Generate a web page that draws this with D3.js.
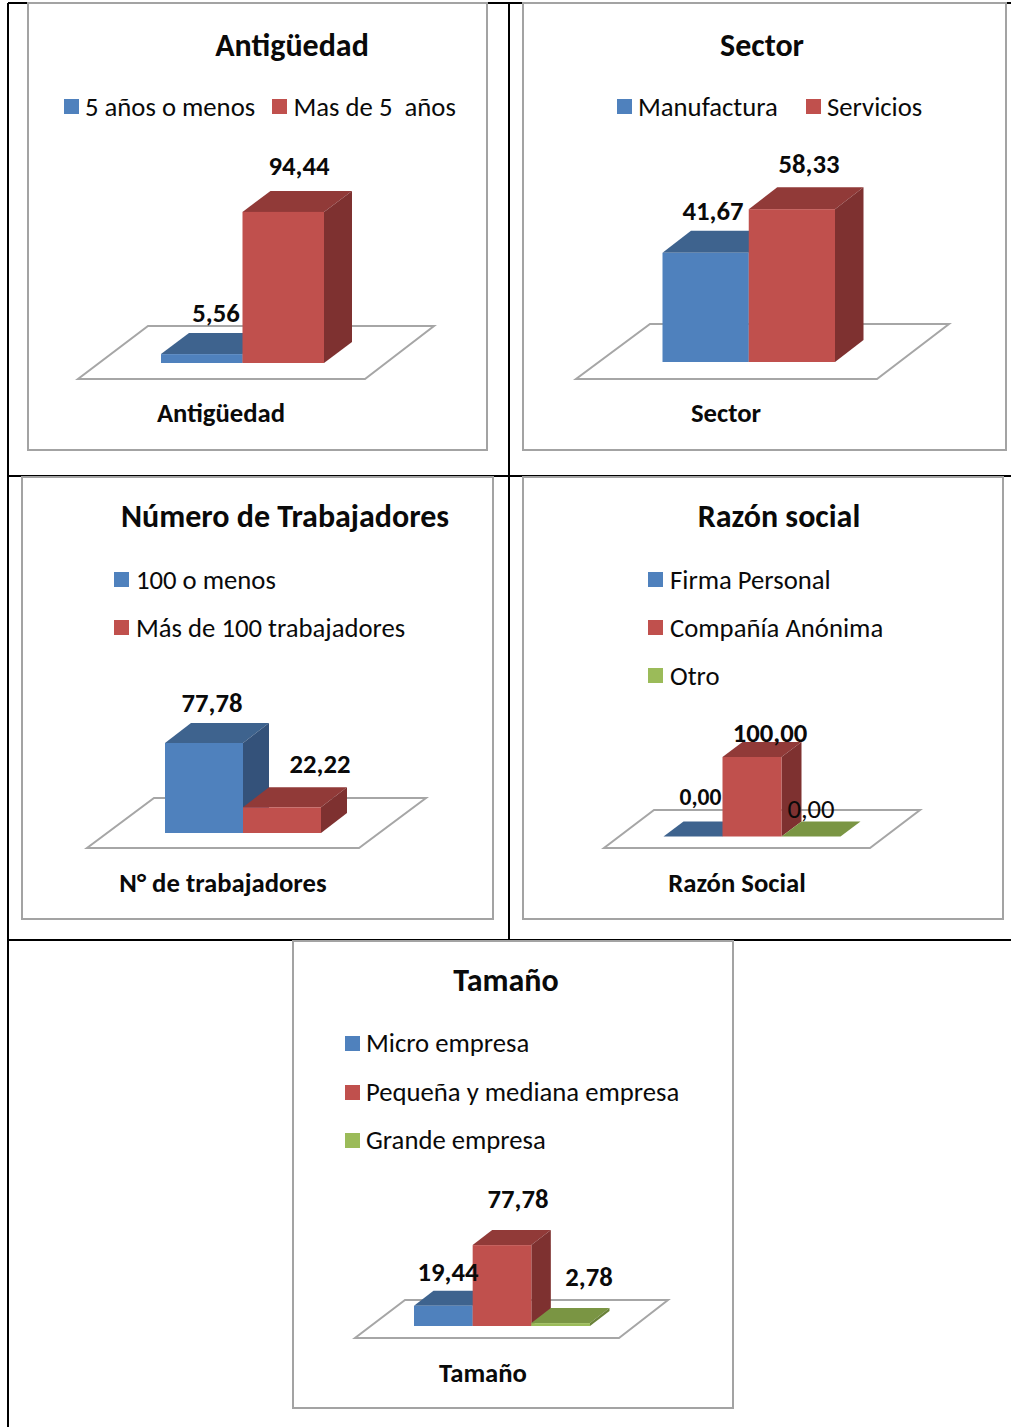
<!DOCTYPE html>
<html lang="es">
<head>
<meta charset="utf-8">
<title>Características de las empresas</title>
<script src="https://cdn.jsdelivr.net/npm/d3@7/dist/d3.min.js"></script>
<style>
  html, body { margin: 0; padding: 0; background: #fff; }
  svg { display: block; }
  text { font-family: Carlito, Calibri, Lato, sans-serif; fill: #0a0a0a; }
</style>
</head>
<body>
<svg id="chart" width="1011" height="1427"></svg>
<script>
// Survey values, in percent
const antiguedadCategories = ["5 años o menos", "Mas de 5  años"];
const antiguedadValues = [5.56, 94.44];
const sectorCategories = ["Manufactura", "Servicios"];
const sectorValues = [41.67, 58.33];
const trabajadoresCategories = ["100 o menos", "Más de 100 trabajadores"];
const trabajadoresValues = [77.78, 22.22];
const razonCategories = ["Firma Personal", "Compañía Anónima", "Otro"];
const razonValues = [0, 100, 0];
const tamanoCategories = ["Micro empresa", "Pequeña y mediana empresa", "Grande empresa"];
const tamanoValues = [19.44, 77.78, 2.78];

const seriesColors = [
  { front: "#4f81bd", top: "#3e638e", side: "#34527a" },
  { front: "#c0504d", top: "#913a38", side: "#7e3130" },
  { front: "#9bbb59", top: "#7a9543", side: "#6a8239" }
];

// Panel layout: frame, floor, bar box and text placement for each small chart.
// legend rows: swatch x, swatch y, text x, text baseline.
// labels: x, baseline, weight, size.
const panels = [
  {
    title: "Antigüedad", axisTitle: "Antigüedad",
    categories: antiguedadCategories, values: antiguedadValues,
    frame: [28, 3, 487, 450],
    floor: [[78, 379], [365, 379], [434, 326], [148, 326]],
    bars: { x0: 161, x1: 324, base: 363, perUnit: 1.6, dx: 28, dy: 21 },
    titlePos: [292, 56], axisPos: [221, 422],
    legend: [[64, 99, 85, 116], [272, 99, 293.5, 116]],
    labels: [[216, 322, 700, 26.7], [299, 175, 700, 26.7]]
  },
  {
    title: "Sector", axisTitle: "Sector",
    categories: sectorCategories, values: sectorValues,
    frame: [523, 3, 1006, 450],
    floor: [[576, 379], [877, 379], [949, 324], [650, 324]],
    bars: { x0: 662.5, x1: 835, base: 362, perUnit: 2.62, dx: 28.5, dy: 22 },
    titlePos: [762, 56], axisPos: [726, 422],
    legend: [[617, 99, 638, 116], [806, 99, 827, 116]],
    labels: [[713, 220, 700, 26.7], [809, 173, 700, 26.7]]
  },
  {
    title: "Número de Trabajadores", axisTitle: "N° de trabajadores",
    categories: trabajadoresCategories, values: trabajadoresValues,
    frame: [22, 477, 493, 919],
    floor: [[87, 848], [359, 848], [426, 798], [154, 798]],
    bars: { x0: 165, x1: 321, base: 833, perUnit: 1.157, dx: 26, dy: 20 },
    titlePos: [285, 527], axisPos: [223, 892],
    legend: [[114, 572, 136, 589], [114, 620, 136, 637]],
    labels: [[212, 712, 700, 26.7], [320, 773, 700, 26.7]]
  },
  {
    title: "Razón social", axisTitle: "Razón Social",
    categories: razonCategories, values: razonValues,
    frame: [523, 477, 1003, 919],
    floor: [[604, 848], [870, 848], [920, 810], [654, 810]],
    bars: { x0: 663.5, x1: 840.5, base: 836.5, perUnit: 0.795, dx: 20, dy: 15 },
    titlePos: [779, 527], axisPos: [737, 892],
    legend: [[648, 572, 670, 589], [648, 620, 670, 637], [648, 668, 670, 685]],
    labels: [[700.5, 804.5, 700, 23.5], [770, 742, 700, 26.7], [811, 818, 400, 26.7]]
  },
  {
    title: "Tamaño", axisTitle: "Tamaño",
    categories: tamanoCategories, values: tamanoValues,
    frame: [293, 941, 733, 1408],
    floor: [[355, 1338], [619, 1338], [668, 1300], [405, 1300]],
    bars: { x0: 414, x1: 590, base: 1326, perUnit: 1.04, dx: 19.5, dy: 15 },
    titlePos: [506, 991], axisPos: [483, 1382],
    legend: [[345, 1036, 366, 1052], [345, 1085, 366, 1101], [345, 1133, 366, 1149]],
    labels: [[448, 1281, 700, 26.7], [518, 1208, 700, 26.7], [589, 1286, 700, 26.7]]
  }
];

const svg = d3.select("#chart");

// Enclosing table rules
const rules = [[8, 3, 1011, 3], [8, 3, 8, 1427], [509, 3, 509, 939], [8, 476, 1011, 476], [8, 940, 1011, 940]];
svg.append("g").selectAll("line").data(rules).join("line")
  .attr("x1", d => d[0]).attr("y1", d => d[1])
  .attr("x2", d => d[2]).attr("y2", d => d[3])
  .attr("stroke", "#000").attr("stroke-width", 2);

const polygon = d3.line();

panels.forEach(p => {
  const g = svg.append("g");
  const [fx0, fy0, fx1, fy1] = p.frame;

  g.append("rect")
    .attr("x", fx0).attr("y", fy0)
    .attr("width", fx1 - fx0).attr("height", fy1 - fy0)
    .attr("fill", "#fff").attr("stroke", "#a3a3a3").attr("stroke-width", 2);

  g.append("path")
    .attr("d", polygon(p.floor) + "Z")
    .attr("fill", "#fff").attr("stroke", "#a6a6a6").attr("stroke-width", 2)
    .attr("stroke-linejoin", "miter");

  const b = p.bars;
  const x = d3.scaleBand().domain(p.categories).range([b.x0, b.x1]).padding(0);
  const y = d3.scaleLinear().domain([0, 100]).range([b.base, b.base - 100 * b.perUnit]);

  // Each bar is three faces; later bars overlap the earlier ones
  p.values.forEach((v, i) => {
    const c = p.categories[i];
    const l = x(c), r = l + x.bandwidth(), t = y(v), base = y(0);
    const color = seriesColors[i];
    const bar = g.append("g");
    bar.append("path")
      .attr("d", polygon([[l, t], [r, t], [r + b.dx, t - b.dy], [l + b.dx, t - b.dy]]) + "Z")
      .attr("fill", color.top);
    if (v > 0) {
      bar.append("path")
        .attr("d", polygon([[r, t], [r + b.dx, t - b.dy], [r + b.dx, base - b.dy], [r, base]]) + "Z")
        .attr("fill", color.side);
      bar.append("rect")
        .attr("x", l).attr("y", t)
        .attr("width", x.bandwidth()).attr("height", base - t)
        .attr("fill", color.front);
    }
  });

  g.append("text")
    .attr("x", p.titlePos[0]).attr("y", p.titlePos[1])
    .attr("text-anchor", "middle")
    .attr("font-size", 32).attr("font-weight", 700)
    .text(p.title);

  g.append("text")
    .attr("x", p.axisPos[0]).attr("y", p.axisPos[1])
    .attr("text-anchor", "middle")
    .attr("font-size", 26.7).attr("font-weight", 700)
    .text(p.axisTitle);

  p.legend.forEach((pos, i) => {
    g.append("rect")
      .attr("x", pos[0]).attr("y", pos[1])
      .attr("width", 15).attr("height", 15)
      .attr("fill", seriesColors[i].front);
    g.append("text")
      .attr("x", pos[2]).attr("y", pos[3])
      .attr("font-size", 26.7)
      .style("white-space", "pre")
      .text(p.categories[i]);
  });

  p.labels.forEach((pos, i) => {
    g.append("text")
      .attr("x", pos[0]).attr("y", pos[1])
      .attr("text-anchor", "middle")
      .attr("font-size", pos[3])
      .attr("font-weight", pos[2])
      .text(d3.format(".2f")(p.values[i]).replace(".", ","));
  });
});
</script>
</body>
</html>
